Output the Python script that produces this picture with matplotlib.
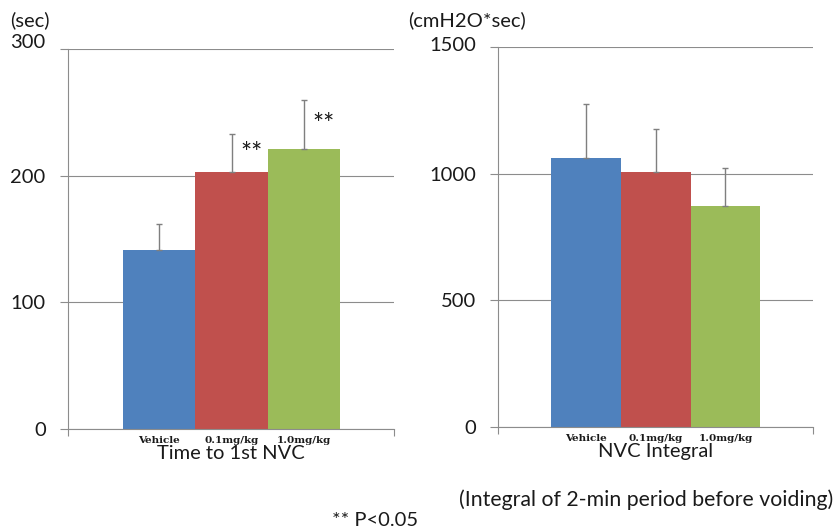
import matplotlib
matplotlib.use("Agg")
import matplotlib.pyplot as plt
from matplotlib.transforms import ScaledTranslation

# data
groups = ["Vehicle", "0.1mg/kg", "1.0mg/kg"]
colors = ["#4F81BD", "#C0504D", "#9BBB59"]

time_mean = [141, 203, 221]
time_err = [21, 30, 39]
time_sig = ["", "**", "**"]

integral_mean = [1062, 1008, 874]
integral_err = [212, 168, 148]

TEXT = "#1a1a1a"
GRID = "#8c8c8c"
SANS = ["Lato", "DejaVu Sans"]
SERIF = ["DejaVu Serif"]
BIG = 14.5


def draw_panel(fig, ax, means, errs, ymax, step, xlim, xlabel, top_shift):
    pos = range(len(means))
    ax.bar(pos, means, width=1.0, color=colors, zorder=2)
    ax.errorbar(pos, means, yerr=[[0] * len(errs), errs], fmt="none",
                ecolor="#7f7f7f", elinewidth=1, capsize=2.5, capthick=1, zorder=3)
    ax.set_xlim(*xlim)
    ax.set_ylim(0, ymax)
    ax.set_yticks(range(0, ymax + 1, step))
    ax.yaxis.grid(True, color=GRID, linewidth=0.8, zorder=0)
    ax.set_axisbelow(True)
    for side in ("top", "right"):
        ax.spines[side].set_visible(False)
    for side in ("left", "bottom"):
        ax.spines[side].set_color(GRID)
        ax.spines[side].set_linewidth(0.8)
    ax.tick_params(axis="y", direction="out", length=6, width=0.8, color=GRID,
                   labelsize=BIG, labelcolor=TEXT, pad=10)
    labels = ax.get_yticklabels()
    for lab in labels:
        lab.set_family(SANS)
    # top label sits a little above its gridline in the original
    labels[-1].set_transform(labels[-1].get_transform()
                             + ScaledTranslation(0, top_shift / 72, fig.dpi_scale_trans))
    ax.set_xticks(list(pos))
    ax.set_xticklabels(groups, fontsize=7.5, fontweight="bold", color=TEXT,
                       family=SERIF)
    ax.tick_params(axis="x", which="major", length=0, pad=5)
    ax.set_xticks(list(xlim), minor=True)
    ax.tick_params(axis="x", which="minor", direction="out", length=5,
                   width=0.8, color=GRID)
    ax.set_xlabel(xlabel, fontsize=BIG, color=TEXT, family=SANS, labelpad=0)


fig = plt.figure(figsize=(8.36, 5.31), dpi=100)
ax1 = fig.add_axes([0.0813, 0.1921, 0.390, 0.7156])
ax2 = fig.add_axes([0.5957, 0.1959, 0.3768, 0.7156])

draw_panel(fig, ax1, time_mean, time_err, 300, 100, (-1.255, 3.24),
           "Time to 1st NVC", 6)
draw_panel(fig, ax2, integral_mean, integral_err, 1500, 500, (-1.263, 3.257),
           "NVC Integral", 2)

for i, (m, e, s) in enumerate(zip(time_mean, time_err, time_sig)):
    if s:
        ax1.annotate(s, (i + 0.27, m + e * 0.55), xytext=(0, -2.5),
                     textcoords="offset points", fontsize=19, color=TEXT,
                     ha="center", va="center", family=SANS)

fig.text(0.012, 0.962, "(sec)", fontsize=BIG, color=TEXT, family=SANS,
         ha="left", va="center")
fig.text(0.488, 0.962, "(cmH2O*sec)", fontsize=BIG, color=TEXT, family=SANS,
         ha="left", va="center")
fig.text(0.997, 0.058, "(Integral of 2-min period before voiding)", fontsize=15.3,
         color=TEXT, family=SANS, ha="right", va="center")
fig.text(0.397, 0.019, "** P<0.05", fontsize=BIG, color=TEXT, family=SANS,
         ha="left", va="center")

fig.savefig("out.png", dpi=100)
